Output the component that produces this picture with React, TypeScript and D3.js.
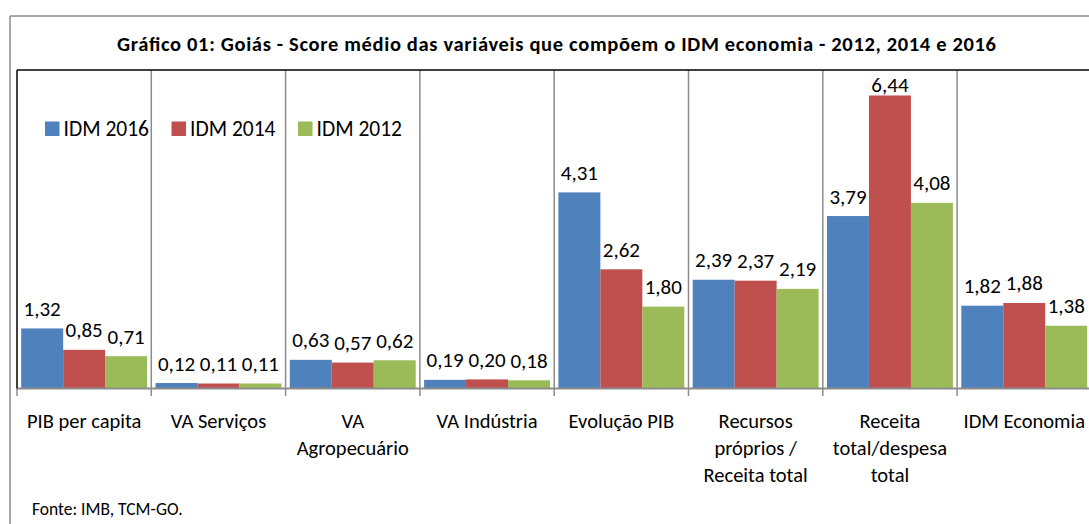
import React from "react";
import * as d3 from "d3";

const categories: string[] = [
  "PIB per capita",
  "VA Serviços",
  "VA\nAgropecuário",
  "VA Indústria",
  "Evolução PIB",
  "Recursos\npróprios /\nReceita total",
  "Receita\ntotal/despesa\ntotal",
  "IDM Economia",
];
const seriesNames: string[] = ["IDM 2016", "IDM 2014", "IDM 2012"];
const idm2016: number[] = [1.32, 0.12, 0.63, 0.19, 4.31, 2.39, 3.79, 1.82];
const idm2014: number[] = [0.85, 0.11, 0.57, 0.2, 2.62, 2.37, 6.44, 1.88];
const idm2012: number[] = [0.71, 0.11, 0.62, 0.18, 1.8, 2.19, 4.08, 1.38];
const seriesColors: string[] = ["#4F81BD", "#C0504D", "#9BBB59"];
const title =
  "Gráfico 01: Goiás - Score médio das variáveis que compõem o IDM economia - 2012,  2014 e 2016";
const source = "Fonte: IMB, TCM-GO.";

const W = 1089;
const H = 524;
const FONT = "Carlito, Calibri, Lato, sans-serif";

export default function App() {
  const values = [idm2016, idm2014, idm2012];
  const plotLeft = 17;
  const plotTop = 70;
  const baseY = 388.5;
  const catW = 134.3;

  const x0 = d3
    .scaleBand<string>()
    .domain(categories)
    .range([plotLeft, plotLeft + catW * categories.length])
    .paddingInner(0)
    .paddingOuter(0);
  const x1 = d3
    .scaleBand<string>()
    .domain(seriesNames)
    .range([0, x0.bandwidth()])
    .paddingInner(0)
    .paddingOuter(0.1);
  const y = d3.scaleLinear().domain([0, 7]).range([baseY, plotTop]);
  const fmt = (v: number) => d3.format(".2f")(v).replace(".", ",");

  const boundaries = categories.map((c) => x0(c) as number);
  boundaries.push(plotLeft + catW * categories.length);

  return (
    <svg
      width={W}
      height={H}
      style={{ position: "absolute", left: 0, top: 0, background: "#fff" }}
      fontFamily={FONT}
    >
      <rect x={0} y={0} width={W} height={H} fill="#fff" />
      {/* outer chart border */}
      <line x1={10} y1={16} x2={W + 5} y2={16} stroke="#8c8c8c" strokeWidth={1.5} />
      <line x1={10} y1={16} x2={10} y2={H + 5} stroke="#8c8c8c" strokeWidth={1.5} />

      {/* title */}
      <text
        x={117}
        y={51}
        fontWeight="bold"
        fontSize={20.5}
        textLength={879}
        lengthAdjust="spacing"
        fill="#000"
      >
        {title}
      </text>

      {/* vertical gridlines / ticks */}
      {boundaries.slice(1).map((bx, i) => (
        <line
          key={"g" + i}
          x1={bx}
          x2={bx}
          y1={plotTop}
          y2={baseY + 7.5}
          stroke="#8c8c8c"
          strokeWidth={1.5}
        />
      ))}
      <line x1={plotLeft} x2={plotLeft} y1={baseY} y2={baseY + 7.5} stroke="#8c8c8c" strokeWidth={1.5} />

      {/* bars */}
      {categories.map((c, ci) =>
        seriesNames.map((s, si) => {
          const v = values[si][ci];
          const bx = (x0(c) as number) + (x1(s) as number);
          return (
            <rect
              key={c + s}
              x={bx}
              y={y(v)}
              width={x1.bandwidth()}
              height={baseY - y(v)}
              fill={seriesColors[si]}
            />
          );
        })
      )}

      {/* baseline */}
      <line x1={plotLeft} x2={W + 5} y1={baseY} y2={baseY} stroke="#8c8c8c" strokeWidth={2} />
      {/* plot top and left axis */}
      <line x1={plotLeft} x2={W + 5} y1={plotTop} y2={plotTop} stroke="#000" strokeWidth={1.5} />
      <line x1={plotLeft} x2={plotLeft} y1={plotTop} y2={baseY} stroke="#000" strokeWidth={1.5} />

      {/* data labels */}
      {categories.map((c, ci) =>
        seriesNames.map((s, si) => {
          const v = values[si][ci];
          const cx = (x0(c) as number) + (x1(s) as number) + x1.bandwidth() / 2;
          const ly = Math.max(y(v) - 12.5, plotTop + 22);
          return (
            <text
              key={"l" + c + s}
              x={cx}
              y={ly}
              textAnchor="middle"
              fontSize={21}
              fill="#000"
            >
              {fmt(v)}
            </text>
          );
        })
      )}

      {/* category labels */}
      {categories.map((c) => {
        const cx = (x0(c) as number) + x0.bandwidth() / 2;
        return (
          <text key={"c" + c} x={cx} y={427.5} textAnchor="middle" fontSize={20.5} fill="#000">
            {c.split("\n").map((line, li) => (
              <tspan key={li} x={cx} dy={li === 0 ? 0 : 27.3}>
                {line}
              </tspan>
            ))}
          </text>
        );
      })}

      {/* legend */}
      {seriesNames.map((s, si) => {
        const lx = 45 + si * 126.5;
        return (
          <g key={"lg" + s}>
            <rect x={lx} y={121.5} width={14.5} height={14.5} fill={seriesColors[si]} />
            <text x={lx + 18.5} y={135.5} fontSize={21.5} fill="#000">
              {s}
            </text>
          </g>
        );
      })}

      {/* source */}
      <text x={32} y={515} fontSize={17.5} fill="#000">
        {source}
      </text>
    </svg>
  );
}
